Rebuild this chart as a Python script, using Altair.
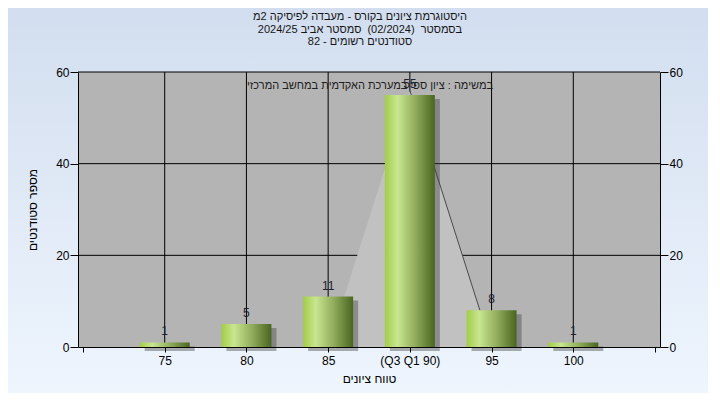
import altair as alt
import pandas as pd

# ---- data ----
grades = [75, 80, 85, 90, 95, 100]
counts = [1, 5, 11, 55, 8, 1]
curve_x = [75, 80, 85, 90, 95, 100]
curve_y = [0, 0, 0, 56, 0, 0]
x_ticks = [70, 75, 80, 85, 90, 95, 100, 105]
grid_x = [75, 80, 85, 90, 95, 100]
grid_y = [20, 40, 60]
y_ticks = [0, 20, 40, 60]
title_lines = [
    "היסטוגרמת ציונים בקורס - מעבדה לפיסיקה 2מ",
    "בסמסטר\u00a0\u00a0(02/2024)\u00a0\u00a0סמסטר אביב 2024/25",
    "סטודנטים רשומים - 82",
]
note_text = "במשימה : ציון ספי במערכת האקדמית במחשב המרכזי"
x_title = "טווח ציונים"
y_title = "מספר סטודנטים"
median_label = "(Q3 Q1 90)"

W, H = 582, 275
FONT = "Liberation Sans"

bars_df = pd.DataFrame({"grade": grades, "count": counts})
curve_df = pd.DataFrame({"cx": curve_x, "cy": curve_y})
gx_df = pd.DataFrame({"gx": grid_x})
gy_df = pd.DataFrame({"gy": grid_y})
one = pd.DataFrame({"a": [0]})

xscale = alt.Scale(domain=[70, 105], nice=False, zero=False)
yscale = alt.Scale(domain=[0, 60], nice=False)

bg_grad = alt.Gradient(
    gradient="linear",
    stops=[alt.GradientStop(color="#d2deef", offset=0),
           alt.GradientStop(color="#eef5fd", offset=1)],
    x1=0, x2=0, y1=0, y2=1,
)
bar_grad = alt.Gradient(
    gradient="linear",
    stops=[alt.GradientStop(color="#a2cc48", offset=0),
           alt.GradientStop(color="#c9e690", offset=0.25),
           alt.GradientStop(color="#92ae5e", offset=0.6),
           alt.GradientStop(color="#4a651f", offset=1)],
    x1=0, x2=1, y1=0, y2=0,
)

axis_common = dict(grid=False, domainColor="black", tickColor="black",
                   labelColor="black", labelFont=FONT, labelFontSize=12,
                   titleFont=FONT, titleFontSize=12, titleFontWeight="normal",
                   titleColor="black", zindex=2)

x_axis = alt.Axis(values=x_ticks, title=x_title, tickSize=5, labelPadding=3,
                  titlePadding=7,
                  labelExpr=("datum.value == 90 ? '" + median_label + "' : "
                             "(datum.value == 70 || datum.value == 105 ? '' : datum.label)"),
                  **axis_common)

background = alt.Chart(one).mark_rect(fill=bg_grad).encode(
    x=alt.value(-70), x2=alt.value(630), y=alt.value(-64), y2=alt.value(321)
)
plot_bg = alt.Chart(one).mark_rect(fill="#b4b4b4").encode(
    x=alt.value(0), x2=alt.value(W), y=alt.value(0), y2=alt.value(H)
)
vgrid = alt.Chart(gx_df).mark_rule(color="black", strokeWidth=1).encode(
    x=alt.X("gx:Q", scale=xscale, axis=x_axis)
)
hgrid = alt.Chart(gy_df).mark_rule(color="black", strokeWidth=1).encode(
    y=alt.Y("gy:Q", scale=yscale, axis=None)
)
area = alt.Chart(curve_df).mark_area(color="#c1c1c1", opacity=1).encode(
    x=alt.X("cx:Q", scale=xscale, axis=x_axis),
    y=alt.Y("cy:Q", scale=yscale, axis=None),
)
curve_line = alt.Chart(curve_df).transform_filter("datum.cx >= 90 && datum.cx <= 95").mark_line(
    color="#4a4a4a", strokeWidth=1
).encode(
    x=alt.X("cx:Q", scale=xscale, axis=x_axis),
    y=alt.Y("cy:Q", scale=yscale, axis=None),
)

shadow = alt.Chart(bars_df).mark_bar(
    size=50, xOffset=5, yOffset=4, color="#3c3c3c", opacity=0.4
).encode(
    x=alt.X("grade:Q", scale=xscale, axis=x_axis),
    y=alt.Y("count:Q", scale=yscale,
            axis=alt.Axis(orient="right", values=y_ticks, title=None, tickSize=8,
                          labelPadding=1, **axis_common)),
)
bars = alt.Chart(bars_df).mark_bar(size=50, fill=bar_grad).encode(
    x=alt.X("grade:Q", scale=xscale, axis=x_axis),
    y=alt.Y("count:Q", scale=yscale,
            axis=alt.Axis(orient="left", values=y_ticks, title=y_title, tickSize=8,
                          labelPadding=1, titlePadding=16, **axis_common)),
)
labels = alt.Chart(bars_df).mark_text(
    baseline="bottom", dy=-4, font=FONT, fontSize=12, color="#202030"
).encode(
    x=alt.X("grade:Q", scale=xscale, axis=x_axis),
    y=alt.Y("count:Q", scale=yscale, axis=None),
    text="count:Q",
)

note = alt.Chart(pd.DataFrame({"t": [note_text]})).mark_text(
    font=FONT, fontSize=11, color="#202020", baseline="middle"
).encode(x=alt.value(292), y=alt.value(14), text="t:N")

title_layers = []
for i, ty in enumerate([-55, -42, -30]):
    title_layers.append(
        alt.Chart(pd.DataFrame({"t": [title_lines[i]]})).mark_text(
            font=FONT, fontSize=11, color="#151515", baseline="middle"
        ).encode(x=alt.value(282), y=alt.value(ty), text="t:N")
    )

chart = alt.layer(
    background, plot_bg, vgrid, hgrid, area, curve_line, shadow, bars, labels, note,
    *title_layers
).resolve_axis(y="independent").properties(
    width=W, height=H,
    autosize=alt.AutoSizeParams(type="none"),
    padding={"left": 70, "top": 64, "right": 48, "bottom": 46},
).configure_view(stroke="black", strokeWidth=1).configure(background="#eef5fd")

chart.save("out.html", embed_options={"renderer": "svg", "actions": False})
